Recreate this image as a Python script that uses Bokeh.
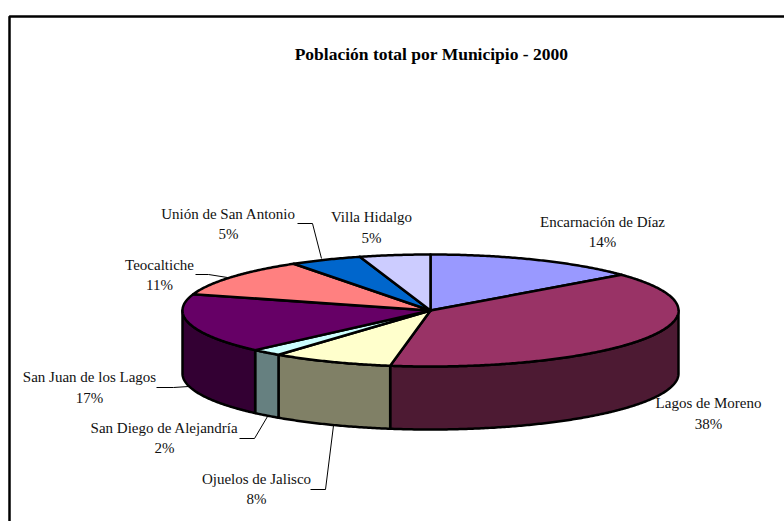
import numpy as np
from bokeh.plotting import figure
from bokeh.models import Range1d, ColumnDataSource
from bokeh.core.properties import value
from bokeh.embed import file_html
from bokeh.resources import INLINE

# --- data ---
municipios = ["Encarnación de Díaz", "Lagos de Moreno", "Ojuelos de Jalisco", "San Diego de Alejandría",
              "San Juan de los Lagos", "Teocaltiche", "Unión de San Antonio", "Villa Hidalgo"]
shares = [14.0, 38.6, 7.9, 2.0, 17.2, 11.0, 4.7, 4.6]
pct_labels = ["14%", "38%", "8%", "2%", "17%", "11%", "5%", "5%"]
title_text = "Población total por Municipio - 2000"

# --- styles ---
top_colors = ["#9999FF", "#993366", "#FFFFCC", "#CCFFFF", "#660066", "#FF8080", "#0066CC", "#CCCCFF"]
side_colors = ["#4D4D80", "#4D1A33", "#808066", "#668080", "#330033", "#804040", "#003366", "#666680"]

# --- layout (page pixels) ---
CX, CY, RX, RY, DEPTH = 430.0, 310.0, 248.0, 56.0, 63.0
name_x = [602, 708, 256, 164, 89, 159, 228, 371]
name_y = [221, 402, 478, 427, 376, 264, 213, 216]
pct_y = [241, 423, 498, 447, 397, 284, 233, 237]
leaders_x = [[310, 325, 333], [239, 254, 267], [156, 173, 188], [195, 208, 227], [297, 312, 321]]
leaders_y = [[489, 489, 425], [438, 438, 416], [387, 387, 386], [274, 274, 277], [223, 223, 258]]

p = figure(width=784, height=521, output_backend="svg", toolbar_location=None,
           x_range=Range1d(0, 784), y_range=Range1d(521, 0),
           min_border=0, outline_line_color=None, background_fill_color="white")
p.axis.visible = False
p.grid.visible = False
p.xaxis.visible = False
p.yaxis.visible = False


def arc(a0, a1, dy=0.0):
    t = np.radians(np.linspace(a0, a1, max(int(abs(a1 - a0) * 2), 2)))
    return CX + RX * np.sin(t), CY + dy - RY * np.cos(t)


edges = np.concatenate([[0.0], np.cumsum(shares)]) / np.sum(shares) * 360.0

# outer frame of the chart area
p.line([784, 9, 9, 9], [16, 16, 16, 521], line_color="black", line_width=2.5)

# visible side walls
for i in range(len(shares)):
    a0, a1 = max(edges[i], 90.0), min(edges[i + 1], 270.0)
    if a1 <= a0:
        continue
    xt, yt = arc(a0, a1)
    xb, yb = arc(a1, a0, DEPTH)
    p.patch(np.r_[xt, xb], np.r_[yt, yb], fill_color=side_colors[i], line_color="black",
            line_width=2.5, line_join="round")

# top faces
for i in range(len(shares)):
    xt, yt = arc(edges[i], edges[i + 1])
    p.patch(np.r_[CX, xt], np.r_[CY, yt], fill_color=top_colors[i], line_color="black",
            line_width=2.5, line_join="round")

# leader lines
p.multi_line(leaders_x, leaders_y, line_color="black", line_width=1)

# labels
src = ColumnDataSource(dict(x=name_x, y=name_y, py=pct_y, name=municipios, pct=pct_labels))
font = value("Liberation Serif")
common = dict(source=src, x="x", text_align="center", text_baseline="middle", text_color="#111111",
              text_font=font, text_font_size="15px")
p.text(y="y", text="name", **common)
p.text(y="py", text="pct", **common)
p.text(x=[431], y=[53], text=[title_text], text_align="center", text_baseline="middle",
       text_color="black", text_font=font, text_font_style="bold", text_font_size="17.5px")

open("out.html", "w").write(file_html(p, INLINE))
